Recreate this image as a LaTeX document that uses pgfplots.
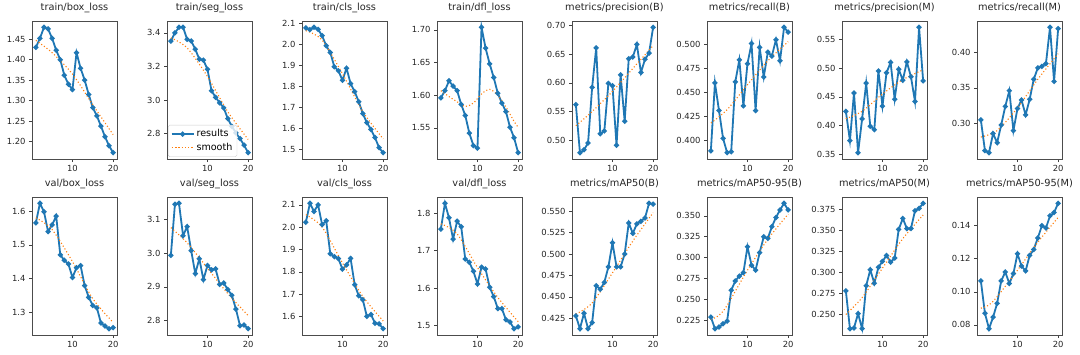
\documentclass[border=0pt]{standalone}
\usepackage{fontspec}
\setmainfont{DejaVu Sans}
\usepackage{pgfplots}
\pgfplotsset{compat=1.18}
\definecolor{mblue}{HTML}{1F77B4}
\definecolor{morange}{HTML}{FF7F0E}
\pgfplotsset{
 panel/.style={
  scale only axis, width=85pt, height=138pt, anchor=north west,
  xmin=0.05, xmax=20.95, xtick={10,20},
  enlarge y limits=0.05,
  tick pos=left, tick align=outside, major tick length=3pt,
  every tick/.style={black!75, line width=0.5pt},
  axis line style={black!70, line width=0.6pt},
  tick label style={font=\fontsize{8.4}{9}\selectfont, text=black!85},
  title style={font=\fontsize{9.8}{11}\selectfont, text=black!85, at={(0.5,1)}, anchor=base, yshift=5pt},
  /pgf/number format/assume math mode=true,
  yticklabel style={/pgf/number format/fixed, /pgf/number format/fixed zerofill},
  scaled y ticks=false,
 },
 res/.style={mblue, line width=1.8pt, mark=*, mark size=1.6pt, mark options={solid}},
 smo/.style={morange, line width=1.1pt, dash pattern=on 1.1pt off 2.2pt, smooth},
}
\newcommand{\panel}[7]{%
\begin{axis}[panel, at={(#1pt,-#2pt)}, title={#3}, ytick={#4}, yticklabel style={/pgf/number format/precision=#5}]
\addplot[res] coordinates {#6};
\addplot[smo] coordinates {#7};
\end{axis}}
\begin{document}
\begin{tikzpicture}
\useasboundingbox (0,0) rectangle (1080pt,-354pt);
% ---------- row 1
\panel{32}{21}{train/box\_loss}{1.20,1.25,...,1.46}{2}
{(1,1.430)(2,1.452)(3,1.479)(4,1.475)(5,1.452)(6,1.423)(7,1.400)(8,1.362)(9,1.340)(10,1.327)
 (11,1.417)(12,1.379)(13,1.350)(14,1.315)(15,1.283)(16,1.263)(17,1.238)(18,1.212)(19,1.190)(20,1.173)}
{(1,1.447)(5,1.417)(10,1.365)(15,1.290)(20,1.217)}
\begin{axis}[panel, at={(167pt,-21pt)}, title={train/seg\_loss}, ytick={2.8,3.0,3.2,3.4}, yticklabel style={/pgf/number format/precision=1},
 legend style={at={(0.012,0.015)}, anchor=south west, font=\fontsize{9.6}{11}\selectfont, draw=black!20, rounded corners=1.5pt, inner sep=2.5pt, row sep=1pt, fill=white, fill opacity=0.8, text opacity=1},
 legend cell align=left,
 legend image code/.code={\draw[mark repeat=2,mark phase=2,#1] plot coordinates {(0pt,0pt) (11pt,0pt) (22pt,0pt)};}]
\addplot[res] coordinates {(1,3.351)(2,3.400)(3,3.433)(4,3.433)(5,3.361)(6,3.351)(7,3.302)(8,3.243)(9,3.237)(10,3.183)
 (11,3.055)(12,3.016)(13,2.983)(14,2.953)(15,2.889)(16,2.843)(17,2.804)(18,2.770)(19,2.731)(20,2.686)};
\addlegendentry{results}
\addplot[smo] coordinates {(1,3.370)(5,3.310)(10,3.140)(15,2.930)(20,2.765)};
\addlegendentry{smooth}
\end{axis}
\panel{302}{21}{train/cls\_loss}{1.5,1.6,...,2.15}{1}
{(1,2.078)(2,2.070)(3,2.081)(4,2.071)(5,2.041)(6,1.993)(7,1.961)(8,1.893)(9,1.874)(10,1.829)
 (11,1.886)(12,1.813)(13,1.775)(14,1.727)(15,1.670)(16,1.627)(17,1.595)(18,1.556)(19,1.508)(20,1.484)}
{(1,2.065)(5,2.020)(10,1.860)(15,1.680)(20,1.550)}
\panel{437}{21}{train/dfl\_loss}{1.55,1.60,1.65,1.70}{2}
{(1,1.596)(2,1.607)(3,1.622)(4,1.614)(5,1.607)(6,1.586)(7,1.569)(8,1.542)(9,1.523)(10,1.519)
 (11,1.704)(12,1.672)(13,1.648)(14,1.627)(15,1.603)(16,1.588)(17,1.575)(18,1.551)(19,1.535)(20,1.512)}
{(1,1.607)(3,1.598)(5,1.590)(7,1.583)(9,1.588)(11,1.602)(13,1.609)(15,1.600)(17,1.582)(19,1.560)(20,1.551)}
\panel{572}{21}{metrics/precision(B)}{0.50,0.55,...,0.71}{2}
{(1,0.562)(2,0.478)(3,0.483)(4,0.495)(5,0.592)(6,0.661)(7,0.511)(8,0.516)(9,0.599)(10,0.595)
 (11,0.491)(12,0.614)(13,0.533)(14,0.642)(15,0.645)(16,0.667)(17,0.618)(18,0.641)(19,0.652)(20,0.697)}
{(1,0.525)(5,0.550)(10,0.585)(15,0.625)(20,0.665)}
\panel{707}{21}{metrics/recall(B)}{0.400,0.425,...,0.53}{3}
{(1,0.389)(2,0.460)(3,0.431)(4,0.402)(5,0.387)(6,0.388)(7,0.461)(8,0.484)(9,0.436)(10,0.480)
 (11,0.501)(12,0.431)(13,0.497)(14,0.466)(15,0.492)(16,0.488)(17,0.505)(18,0.483)(19,0.518)(20,0.513)}
{(1,0.418)(5,0.432)(10,0.458)(15,0.483)(20,0.503)}
\panel{842}{21}{metrics/precision(M)}{0.35,0.40,...,0.56}{2}
{(1,0.425)(2,0.374)(3,0.457)(4,0.353)(5,0.412)(6,0.474)(7,0.399)(8,0.393)(9,0.495)(10,0.434)
 (11,0.492)(12,0.510)(13,0.446)(14,0.498)(15,0.479)(16,0.511)(17,0.485)(18,0.442)(19,0.571)(20,0.478)}
{(1,0.412)(5,0.425)(10,0.455)(15,0.480)(20,0.497)}
\panel{977}{21}{metrics/recall(M)}{0.30,0.35,0.40}{2}
{(1,0.305)(2,0.262)(3,0.259)(4,0.286)(5,0.273)(6,0.298)(7,0.324)(8,0.346)(9,0.290)(10,0.321)
 (11,0.333)(12,0.312)(13,0.334)(14,0.362)(15,0.378)(16,0.380)(17,0.384)(18,0.435)(19,0.359)(20,0.433)}
{(1,0.281)(5,0.290)(10,0.322)(15,0.362)(20,0.398)}
% ---------- row 2
\panel{32}{197}{val/box\_loss}{1.3,1.4,1.5,1.6}{1}
{(1,1.565)(2,1.623)(3,1.598)(4,1.539)(5,1.559)(6,1.585)(7,1.470)(8,1.454)(9,1.443)(10,1.403)
 (11,1.432)(12,1.438)(13,1.379)(14,1.344)(15,1.320)(16,1.313)(17,1.268)(18,1.259)(19,1.251)(20,1.254)}
{(1,1.580)(5,1.545)(10,1.450)(15,1.340)(20,1.270)}
\panel{167}{197}{val/seg\_loss}{2.8,2.9,3.0,3.1}{1}
{(1,2.993)(2,3.144)(3,3.147)(4,3.051)(5,3.078)(6,3.007)(7,2.939)(8,2.983)(9,2.921)(10,2.963)
 (11,2.950)(12,2.953)(13,2.907)(14,2.911)(15,2.892)(16,2.875)(17,2.834)(18,2.785)(19,2.787)(20,2.776)}
{(1,3.075)(5,3.030)(10,2.955)(15,2.880)(20,2.815)}
\panel{302}{197}{val/cls\_loss}{1.6,1.7,...,2.15}{1}
{(1,2.022)(2,2.107)(3,2.070)(4,2.100)(5,2.011)(6,2.029)(7,1.881)(8,1.868)(9,1.859)(10,1.812)
 (11,1.831)(12,1.860)(13,1.742)(14,1.693)(15,1.675)(16,1.600)(17,1.609)(18,1.570)(19,1.567)(20,1.545)}
{(1,2.056)(5,2.000)(10,1.840)(15,1.690)(20,1.580)}
\panel{437}{197}{val/dfl\_loss}{1.5,1.6,1.7,1.8}{1}
{(1,1.758)(2,1.827)(3,1.788)(4,1.731)(5,1.779)(6,1.764)(7,1.678)(8,1.669)(9,1.645)(10,1.611)
 (11,1.656)(12,1.651)(13,1.602)(14,1.577)(15,1.545)(16,1.545)(17,1.515)(18,1.509)(19,1.491)(20,1.496)}
{(1,1.772)(5,1.745)(10,1.655)(15,1.575)(20,1.510)}
\panel{572}{197}{metrics/mAP50(B)}{0.425,0.450,...,0.56}{3}
{(1,0.428)(2,0.413)(3,0.431)(4,0.413)(5,0.420)(6,0.463)(7,0.459)(8,0.467)(9,0.485)(10,0.513)
 (11,0.485)(12,0.485)(13,0.500)(14,0.536)(15,0.524)(16,0.535)(17,0.538)(18,0.542)(19,0.559)(20,0.558)}
{(1,0.430)(5,0.443)(10,0.478)(15,0.515)(20,0.548)}
\panel{707}{197}{metrics/mAP50-95(B)}{0.225,0.250,...,0.36}{3}
{(1,0.229)(2,0.215)(3,0.217)(4,0.221)(5,0.224)(6,0.261)(7,0.272)(8,0.278)(9,0.282)(10,0.313)
 (11,0.291)(12,0.285)(13,0.306)(14,0.325)(15,0.323)(16,0.337)(17,0.348)(18,0.357)(19,0.365)(20,0.357)}
{(1,0.226)(3,0.231)(5,0.243)(10,0.285)(15,0.322)(20,0.352)}
\panel{842}{197}{metrics/mAP50(M)}{0.225,0.250,...,0.38}{3}
{(1,0.278)(2,0.233)(3,0.234)(4,0.251)(5,0.233)(6,0.284)(7,0.303)(8,0.287)(9,0.306)(10,0.313)
 (11,0.320)(12,0.312)(13,0.317)(14,0.351)(15,0.364)(16,0.352)(17,0.352)(18,0.373)(19,0.376)(20,0.382)}
{(1,0.250)(5,0.270)(10,0.305)(15,0.340)(20,0.368)}
\panel{977}{197}{metrics/mAP50-95(M)}{0.08,0.10,0.12,0.14}{2}
{(1,0.1066)(2,0.087)(3,0.0776)(4,0.0846)(5,0.093)(6,0.1066)(7,0.112)(8,0.105)(9,0.111)(10,0.123)
 (11,0.1156)(12,0.1126)(13,0.122)(14,0.1256)(15,0.1326)(16,0.140)(17,0.1386)(18,0.146)(19,0.148)(20,0.1536)}
{(1,0.090)(3,0.092)(5,0.097)(10,0.113)(15,0.130)(20,0.145)}
\end{tikzpicture}
\end{document}
